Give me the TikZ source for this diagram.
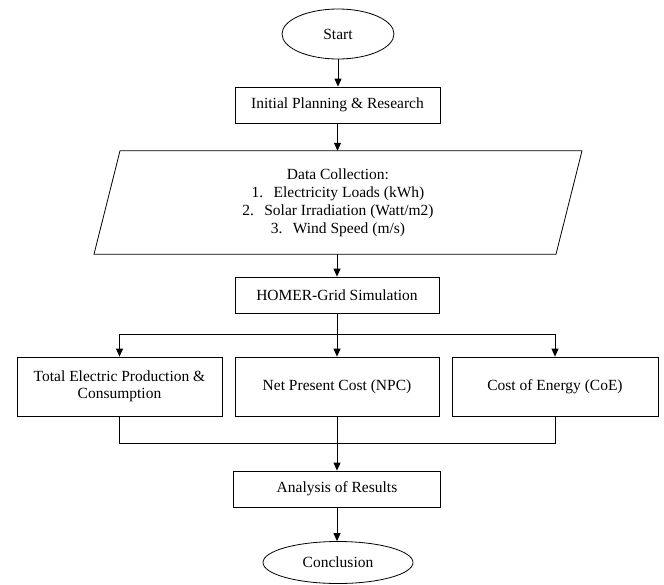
\documentclass[tikz,border=0pt]{standalone}
\usepackage{fontspec}
\setmainfont{Liberation Serif}
\newfontfamily\timesf{Liberation Serif}
\usetikzlibrary{shapes.geometric,arrows.meta}
\begin{document}
\begin{tikzpicture}[x=1pt,y=-1pt,
  every node/.style={font=\timesf\fontsize{15.5}{17.5}\selectfont, inner sep=0pt},
  procbox/.style={draw, rectangle, line width=0.8pt, align=center},
  term/.style={draw, ellipse, line width=0.8pt},
  conn/.style={line width=0.8pt},
  arr/.style={conn, -{Triangle[length=8pt,width=7pt]}}]
\useasboundingbox (0,0) rectangle (664,584);
\node[term, minimum width=112pt, minimum height=50pt] (start) at (338,34) {Start};
\node[procbox, minimum width=205pt, minimum height=36pt] (init) at (337.5,105) {Initial Planning \& Research};
\node[rectangle, minimum width=462pt, minimum height=103pt, align=center, font=\timesf\fontsize{15.5}{18}\selectfont] (data) at (338,202.5)
  {\raisebox{-3pt}{}Data Collection:\\ 1.\enspace\,Electricity Loads (kWh)\\ 2.\enspace\,Solar Irradiation (Watt/m2)\\ 3.\enspace\,Wind Speed (m/s)};
\draw[conn] ([xshift=-218pt]data.north) -- ([xshift=244pt]data.north) -- ([xshift=218pt]data.south) -- ([xshift=-244pt]data.south) -- cycle;
\node[procbox, minimum width=204pt, minimum height=36pt] (homer) at (337,295) {HOMER-Grid Simulation};
\node[procbox, minimum width=205pt, minimum height=59pt] (total) at (119.5,386.5) {Total Electric Production \&\\ Consumption};
\node[procbox, minimum width=204pt, minimum height=59pt] (npc) at (337,386.5) {Net Present Cost (NPC)};
\node[procbox, minimum width=206pt, minimum height=59pt] (coe) at (555,386.5) {Cost of Energy (CoE)};
\node[procbox, minimum width=207pt, minimum height=36pt] (analysis) at (337,489) {Analysis of Results};
\node[term, minimum width=150pt, minimum height=42pt] (concl) at (338,562.5) {Conclusion};
\coordinate (split) at (337,334);
\coordinate (merge) at (337,443);
\draw[arr] (start) -- (start |- init.north);
\draw[arr] (init) -- (init |- data.north);
\draw[arr] (data.south -| homer) -- (homer);
\draw[arr] (homer) -- (npc);
\draw[arr] (split) -| (total);
\draw[arr] (split) -| (coe);
\draw[conn] (total.south) |- (merge);
\draw[conn] (coe.south) |- (merge);
\draw[arr] (npc.south) -- (analysis.north -| npc.south);
\draw[arr] (analysis) -- (analysis |- concl.north);
\end{tikzpicture}
\end{document}
